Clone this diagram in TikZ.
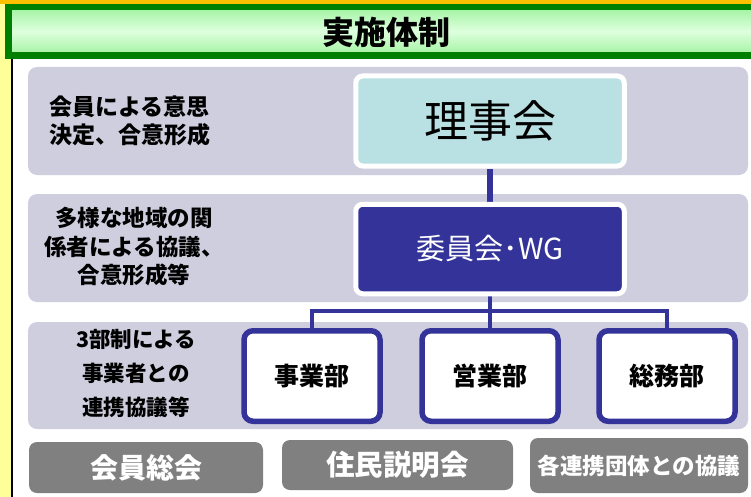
\documentclass[tikz,border=0pt]{standalone}
\usepackage{fontspec}
\setmainfont{Noto Sans CJK JP}
\definecolor{panelgray}{RGB}{207,206,223}
\definecolor{navy}{RGB}{51,51,153}
\definecolor{teal0}{RGB}{185,224,226}
\definecolor{darkgray0}{RGB}{128,128,128}
\definecolor{orange0}{RGB}{255,192,0}
\definecolor{yellow0}{RGB}{255,255,153}
\definecolor{green0}{RGB}{0,128,0}
\definecolor{lgreen}{RGB}{160,242,160}
\definecolor{pgreen}{RGB}{222,255,222}
\pgfdeclarelayer{bg}
\pgfdeclarelayer{mid}
\pgfsetlayers{bg,mid,main}
\tikzset{
  wbox/.style={draw=white, line width=5pt, rounded corners=7pt, minimum width=268.5pt, minimum height=90pt, inner sep=0pt},
  deptbox/.style={draw=navy, fill=white, line width=5.5pt, rounded corners=9pt, minimum width=136pt, minimum height=90.5pt, inner sep=0pt, font=\fontsize{25}{25}\selectfont\bfseries},
  graybox/.style={fill=darkgray0, rounded corners=8pt, inner sep=0pt, text=white, font=\bfseries},
  lbl/.style={inner sep=0pt, font=\bfseries},
  conn/.style={draw=navy, line width=5.5pt},
  conn2/.style={draw=navy, line width=4.5pt}
}
\begin{document}
\begin{tikzpicture}[x=1pt,y=-1pt]
\useasboundingbox (0,0) rectangle (751,497);
\begin{pgfonlayer}{bg}
  \fill[white] (0,0) rectangle (751,497);
  \fill[orange0] (0,0) rectangle (751,4.5);
  \fill[yellow0] (0,4.5) rectangle (11.5,497);
  \draw[black, line width=1.3pt] (12,59) -- (12,497);
  \fill[panelgray, rounded corners=9pt] (28,67) rectangle (748,175);
  \fill[panelgray, rounded corners=9pt] (28,194) rectangle (748,302);
  \fill[panelgray, rounded corners=9pt] (28,322) rectangle (748,429);
\end{pgfonlayer}
% title bar
\shade[top color=lgreen, bottom color=lgreen, middle color=pgreen] (8.5,7) rectangle (775,55.5);
\draw[green0, line width=6.5pt] (8.5,7) rectangle (775,55.5);
\node[lbl, font=\fontsize{32}{32}\selectfont\bfseries] (title) at (386,32) {実施体制};
% main boxes
\node[wbox, fill=teal0, font=\fontsize{44}{44}\selectfont] (riji) at (490,121) {理事会};
\node[wbox, fill=navy, text=white, font=\fontsize{29}{29}\selectfont, minimum height=89.5pt] (iin) at (490,249) {委員会･WG};
\node[deptbox] (jigyo) at (312,376) {事業部};
\node[deptbox] (eigyo) at (490,376) {営業部};
\node[deptbox] (somu) at (667,376) {総務部};
\coordinate (bus) at (490,311);
\begin{pgfonlayer}{mid}
  \draw[conn] (riji.south) -- (iin.north);
  \draw[conn2] (iin.south) -- (bus);
  \draw[conn2] (jigyo.north) |- (bus) -| (somu.north);
  \draw[conn2] (bus) -- (eigyo.north);
\end{pgfonlayer}
% left labels
\node[lbl, align=left, anchor=west, font=\fontsize{23}{27.5}\selectfont\bfseries] (l1) at (49,121) {会員による意思\\決定、合意形成};
\node[lbl, align=center, font=\fontsize{22.5}{28.5}\selectfont\bfseries] (l2) at (134,247) {多様な地域の関\\係者による協議、\\合意形成等};
\node[lbl, align=center, font=\fontsize{21.5}{34}\selectfont\bfseries] (l3) at (136,373.5) {3部制による\\事業者との\\連携協議等};
% bottom boxes
\node[graybox, minimum width=234pt, minimum height=51pt, font=\fontsize{28}{28}\selectfont\bfseries] (kaiin) at (146,467.5) {会員総会};
\node[graybox, minimum width=231pt, minimum height=50pt, font=\fontsize{28.5}{28.5}\selectfont\bfseries] (jumin) at (397.5,465) {住民説明会};
\node[graybox, minimum width=218pt, minimum height=55pt, font=\fontsize{22.5}{22.5}\selectfont\bfseries] (kaku) at (639,465.5) {各連携団体との協議};
\end{tikzpicture}
\end{document}
